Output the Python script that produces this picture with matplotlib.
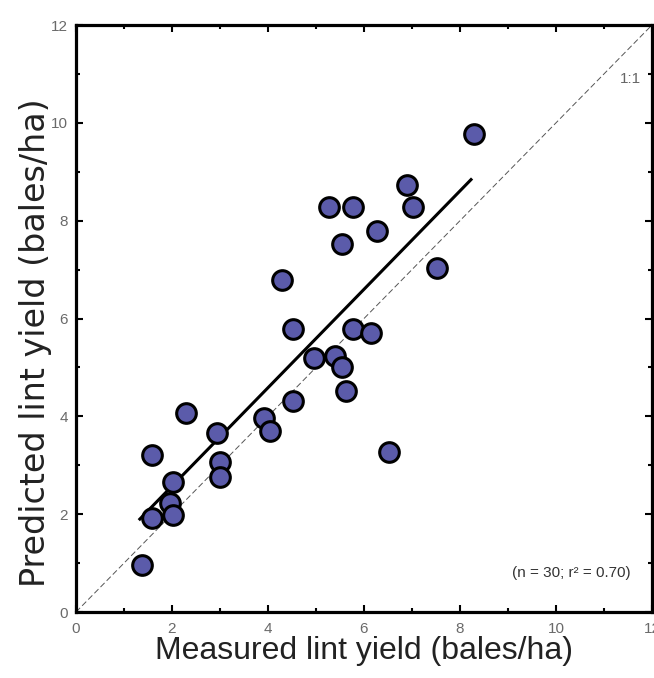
import matplotlib
matplotlib.use("Agg")
import matplotlib.pyplot as plt
from matplotlib.ticker import MultipleLocator

# Measured vs predicted lint yield (bales/ha)
measured = [6.90, 5.27, 5.77, 7.02, 6.27, 5.54, 7.52, 4.29, 4.52, 5.77,
            6.15, 4.96, 5.40, 5.54, 5.63, 4.52, 2.29, 2.94, 1.58, 3.92,
            4.04, 3.00, 3.00, 2.02, 1.96, 2.02, 1.58, 1.38, 8.29, 6.52]
predicted = [8.73, 8.27, 8.27, 8.27, 7.78, 7.53, 7.04, 6.78, 5.78, 5.78,
             5.71, 5.20, 5.24, 5.00, 4.51, 4.31, 4.06, 3.67, 3.20, 3.96,
             3.71, 3.06, 2.76, 2.65, 2.22, 1.98, 1.92, 0.96, 9.78, 3.27]

# Regression line end points and the 1:1 line
fit_x = [1.33, 8.23]
fit_y = [1.90, 8.84]
one_x = [0, 12]
one_y = [0, 12]

ticks = [0, 2, 4, 6, 8, 10, 12]

fig = plt.figure(figsize=(6.54, 6.78), dpi=100)
ax = fig.add_axes([0.1162, 0.0973, 0.8807, 0.8658])

# 1:1 line
ax.plot(one_x, one_y, linestyle=(0, (6, 3)), color="#555555", linewidth=0.7, zorder=1)
# Fitted line
ax.plot(fit_x, fit_y, color="black", linewidth=2.2, zorder=2)
# Points
ax.scatter(measured, predicted, s=200, color="#5b5baa", edgecolor="black",
           linewidth=2.2, zorder=3)

ax.text(11.55, 10.9, "1:1", fontsize=11, color="#666666", ha="center", va="center",
        family="Liberation Sans")
ax.text(11.55, 0.8, "(n = 30; r² = 0.70)", fontsize=11, color="#333333",
        ha="right", va="center", family="Liberation Sans")

ax.set_xlim(0, 12)
ax.set_ylim(0, 12)
ax.set_xticks(ticks)
ax.set_yticks(ticks)
ax.xaxis.set_minor_locator(MultipleLocator(1))
ax.yaxis.set_minor_locator(MultipleLocator(1))
ax.tick_params(which="both", direction="in", top=True, right=True,
               labelsize=11, labelcolor="#6a6a6a", width=1.5)
ax.tick_params(which="major", length=5)
ax.tick_params(axis="x", which="major", pad=7)
ax.tick_params(axis="y", which="major", pad=6)
ax.tick_params(which="minor", length=3)
for lab in ax.get_xticklabels() + ax.get_yticklabels():
    lab.set_family("Liberation Sans")
for side in ax.spines.values():
    side.set_linewidth(2.3)

ax.set_xlabel("Measured lint yield (bales/ha)", fontsize=23, family="Liberation Sans",
              color="#222222", labelpad=0)
ax.set_ylabel("Predicted lint yield (bales/ha)", fontsize=24, family="DejaVu Sans",
              color="#222222")
ax.yaxis.set_label_coords(-0.042, 0.458)

fig.savefig("out.png", dpi=100)
